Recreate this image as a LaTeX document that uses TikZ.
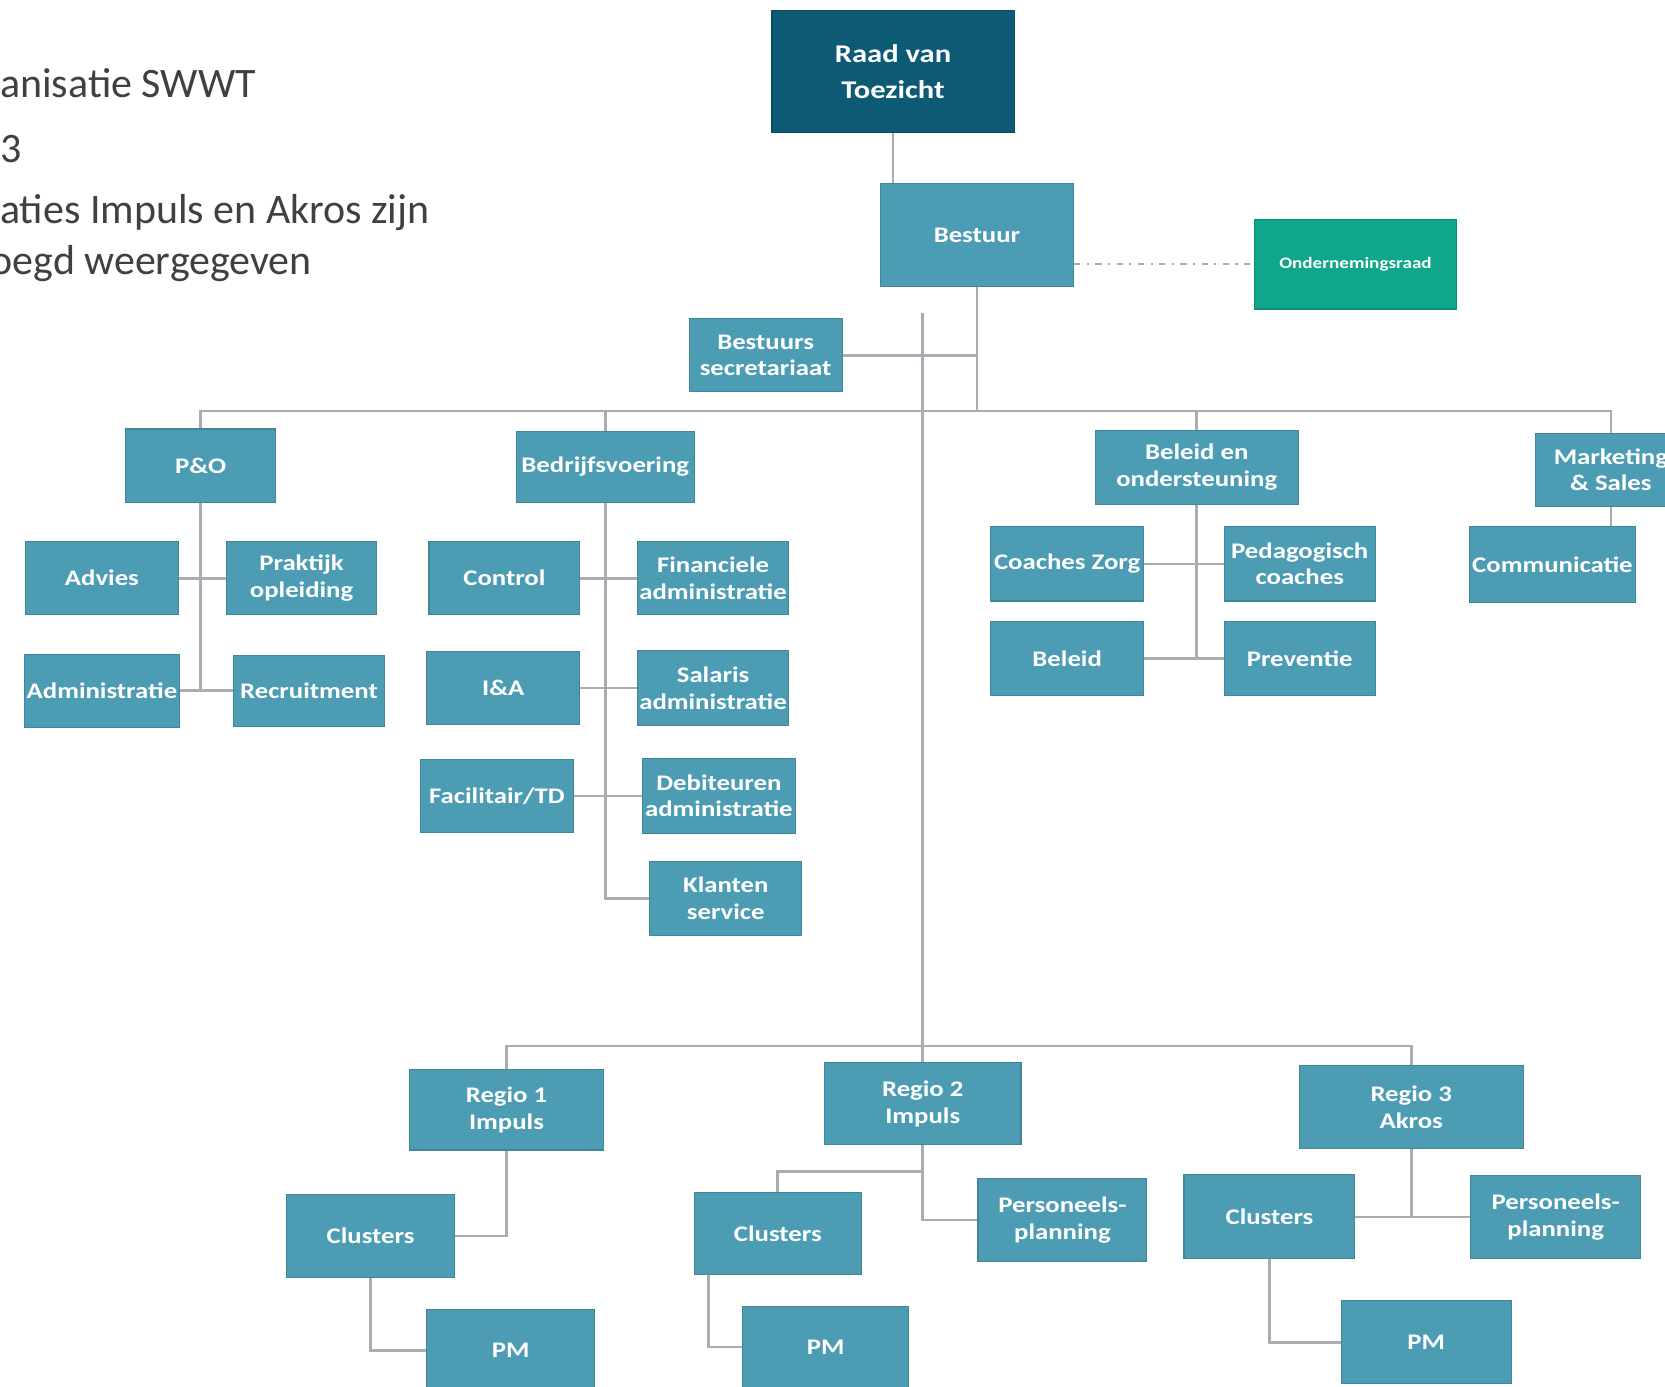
\documentclass[tikz,border=0pt]{standalone}
\usepackage{fontspec}
\setmainfont{Carlito}
\newfontfamily\boxfont[FakeStretch=1.2]{Carlito}
\usetikzlibrary{calc,positioning}
\definecolor{boxblue}{RGB}{76,157,180}
\definecolor{boxdark}{RGB}{12,90,116}
\definecolor{boxgreen}{RGB}{16,166,138}
\definecolor{linegrey}{RGB}{168,173,180}
\definecolor{textgrey}{RGB}{64,64,64}

\begin{document}
\begin{tikzpicture}[x=1pt,y=-1pt]
    \tikzstyle{bnode} = [fill=boxblue, draw=boxblue!85!black, line width=1pt, align=center, text=white, font=\boxfont\bfseries\fontsize{21}{25}\selectfont, minimum width=144pt, minimum height=69pt, inner sep=2pt]
    \tikzstyle{dnode} = [bnode, fill=boxdark, draw=boxdark!85!black, minimum width=228pt, minimum height=115pt, font=\boxfont\bfseries\fontsize{24}{34}\selectfont]
    \tikzstyle{gnode} = [bnode, fill=boxgreen, draw=boxgreen!85!black, minimum width=191pt, minimum height=84pt, font=\boxfont\bfseries\fontsize{15}{18}\selectfont]
    \tikzstyle{rnode} = [bnode, minimum width=158pt, minimum height=78pt]
    \tikzstyle{hnode} = [anchor=west, text=textgrey, font=\fontsize{39.5}{47}\selectfont, inner sep=0pt]
    \tikzstyle{lnk} = [draw=linegrey, line width=2.5pt]
    \fill[white] (0,0) rectangle (1568,1306);
    \useasboundingbox (0,0) rectangle (1568,1306);

    \node[hnode] (title) at (0,78) {anisatie SWWT};
    \node[hnode] (year) at (0,140) {3};
    \node[hnode] (note1) at (0,200) {aties Impuls en Akros zijn};
    \node[hnode] (note2) at (-9,248) {oegd weergegeven};

    \node[dnode] (raad) at (841,67.5) {Raad van\\Toezicht};
    \node[bnode, minimum width=182pt, minimum height=97pt] (bestuur) at (920,221.5) {Bestuur};
    \node[gnode] (orraad) at (1276.5,249) {Ondernemingsraad};
    \node[bnode] (secr) at (721,334.5) {Bestuurs\\secretariaat};

    \node[bnode, minimum width=141pt] (po) at (189,438.5) {P\&O};
    \node[bnode, minimum width=168pt, minimum height=67pt] (bedr) at (570,439.5) {Bedrijfsvoering};
    \node[bnode, minimum width=191pt, minimum height=70pt] (beleidond) at (1127,440) {Beleid en\\ondersteuning};
    \node[bnode, minimum width=142pt] (marketing) at (1517,442.5) {Marketing\\\& Sales};

    \node[bnode] (advies) at (96,544.5) {Advies};
    \node[bnode, minimum width=142pt] (prak) at (284,544.5) {Praktijk\\opleiding};
    \node[bnode] (adm) at (96,650.5) {Administratie};
    \node[bnode, minimum width=142pt, minimum height=67pt] (recr) at (291,650.5) {Recruitment};

    \node[bnode, minimum width=142pt] (control) at (475,544.5) {Control};
    \node[bnode, minimum width=141pt] (fin) at (671.5,544.5) {Financiele\\administratie};
    \node[bnode] (ia) at (474,648) {I\&A};
    \node[bnode, minimum width=141pt, minimum height=71pt] (salaris) at (671.5,648) {Salaris\\administratie};
    \node[bnode] (facil) at (468,749.5) {Facilitair/TD};
    \node[bnode, minimum height=70pt] (debit) at (677,749.5) {Debiteuren\\administratie};
    \node[bnode, minimum width=143pt, minimum height=70pt] (klant) at (683.5,846) {Klanten\\service};

    \node[bnode, minimum height=70pt] (coaches) at (1005,531) {Coaches Zorg};
    \node[bnode, minimum width=142pt, minimum height=70pt] (pedag) at (1224,531) {Pedagogisch\\coaches};
    \node[bnode, minimum height=70pt] (beleid) at (1005,620) {Beleid};
    \node[bnode, minimum width=142pt, minimum height=70pt] (prev) at (1224,620) {Preventie};
    \node[bnode, minimum width=156pt, minimum height=71pt] (comm) at (1462,531.5) {Communicatie};

    \node[rnode, minimum width=182pt, minimum height=76pt] (regio1) at (477,1045) {Regio 1\\Impuls};
    \node[rnode, minimum width=185pt, minimum height=77pt] (regio2) at (869,1039.5) {Regio 2\\Impuls};
    \node[rnode, minimum width=211pt, minimum height=79pt] (regio3) at (1329,1042.5) {Regio 3\\Akros};

    \node[rnode] (clus1) at (349,1164) {Clusters};
    \node[rnode, minimum height=77pt] (pm1) at (481,1271.5) {PM};
    \node[rnode, minimum width=157pt, minimum height=77pt] (clus2) at (732.5,1161.5) {Clusters};
    \node[rnode, minimum width=159pt] (pers2) at (1000.5,1149) {Personeels-\\planning};
    \node[rnode, minimum width=157pt, minimum height=77pt] (pm2) at (777.5,1268.5) {PM};
    \node[rnode, minimum width=161pt, minimum height=79pt] (clus3) at (1195.5,1146) {Clusters};
    \node[rnode, minimum width=160pt] (pers3) at (1465,1146) {Personeels-\\planning};
    \node[rnode, minimum width=160pt] (pm3) at (1343,1264) {PM};

    \coordinate (bus) at (920,387);
    \coordinate (regtop) at (869,295);
    \coordinate (regbus) at (869,985);
    \coordinate (r2split) at ([yshift=-25pt]regio2.south);

    \draw[lnk] (raad.south) -- (raad.south |- bestuur.north);
    \draw[lnk, line width=2pt, dash pattern=on 6pt off 6pt on 2pt off 6pt] (bestuur.east |- orraad.west) -- (orraad.west);
    \draw[lnk] (bestuur.south) -- (bus);
    \draw[lnk] (secr.east) -- (secr.east -| bestuur.south);
    \draw[lnk] (bus) -| (po.north);
    \draw[lnk] (bus) -| (bedr.north);
    \draw[lnk] (bus) -| (beleidond.north);
    \draw[lnk] (bus) -| (marketing.north);

    \draw[lnk] (po.south) -- (po.south |- adm.east);
    \draw[lnk] (advies.east) -- (prak.west);
    \draw[lnk] (adm.east) -- (recr.west);

    \draw[lnk] (bedr.south) |- (klant.west);
    \draw[lnk] (control.east) -- (fin.west);
    \draw[lnk] (ia.east) -- (salaris.west);
    \draw[lnk] (facil.east) -- (debit.west);

    \draw[lnk] (beleidond.south) |- (prev.west);
    \draw[lnk] (coaches.east) -- (pedag.west);
    \draw[lnk] (beleid.east) -- (prev.west);
    \draw[lnk] (marketing.south) -- (marketing.south |- comm.north);

    \draw[lnk] (regtop) -- (regbus);
    \draw[lnk] (regbus) -| (regio1.north);
    \draw[lnk] (regbus) -- (regio2.north);
    \draw[lnk] (regbus) -| (regio3.north);

    \draw[lnk] (regio1.south) |- (clus1.east);
    \draw[lnk] (clus1.south) |- (pm1.west);
    \draw[lnk] (regio2.south) |- (pers2.west);
    \draw[lnk] (r2split) -| (clus2.north);
    \draw[lnk] ([xshift=-65pt]clus2.south) |- (pm2.west);
    \draw[lnk] (regio3.south) -- (regio3.south |- pers3.west);
    \draw[lnk] (clus3.east) -- (pers3.west);
    \draw[lnk] (clus3.south) |- (pm3.west);
\end{tikzpicture}
\end{document}
